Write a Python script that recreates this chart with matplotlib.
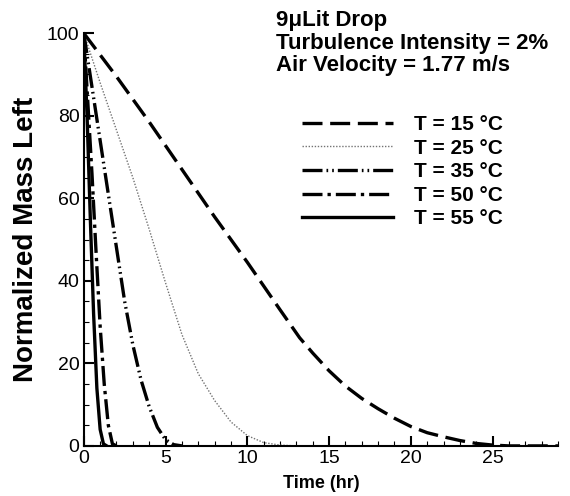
import numpy as np
import matplotlib.pyplot as plt
from matplotlib.ticker import MultipleLocator

plt.rcParams['font.family'] = ['Liberation Sans', 'DejaVu Sans']

# values (time in hr, mass in %)
t15 = [0, 2, 4, 6, 8, 10, 12, 13.2, 14, 15, 16, 17, 18, 19, 20, 21, 22, 23, 24, 25, 26, 29]
m15 = [100, 89.5, 78.5, 67, 55.5, 44.5, 33, 26.2, 22.5, 18.2, 14.5, 11.5, 9, 6.7, 4.7, 3.2, 2.2, 1.3, 0.6, 0.2, 0, 0]

t25 = [0, 1, 2, 3, 4, 5, 6, 7, 8, 9, 10, 11, 12, 13]
m25 = [100, 88, 76.5, 65, 52.5, 39.5, 27, 17.5, 11, 5.8, 2.5, 0.8, 0.2, 0]

t35 = [0, 0.5, 1, 1.5, 2, 2.5, 3, 3.5, 4, 4.5, 5, 5.5, 6]
m35 = [100, 87, 74, 61, 48, 35, 24.5, 16, 9.5, 4.5, 1.5, 0.3, 0]

t50 = [0, 0.25, 0.5, 0.75, 1.0, 1.25, 1.5, 1.75, 2.0]
m50 = [100, 83, 66, 47, 29, 15, 5, 0.5, 0]

t55 = [0, 0.2, 0.4, 0.6, 0.8, 1.0, 1.2, 1.4]
m55 = [100, 80, 55, 32, 14, 4, 0.5, 0]

labels = ['T = 15 °C', 'T = 25 °C', 'T = 35 °C', 'T = 50 °C', 'T = 55 °C']

fig = plt.figure(figsize=(5.7, 4.96), dpi=100)
ax = fig.add_axes([0.147, 0.101, 0.832, 0.832])

ax.plot(t15, m15, color='black', lw=2.4, linestyle=(0, (6, 2.3)), label=labels[0])
ax.plot(t25, m25, color='0.45', lw=1.0, linestyle=(0, (1, 1.2)), label=labels[1])
ax.plot(t35, m35, color='black', lw=2.4, linestyle=(0, (6, 1.2, 0.5, 1.2, 0.5, 1.2)), label=labels[2])
ax.plot(t50, m50, color='black', lw=2.4, linestyle=(0, (6, 1.5, 1, 1.5)), label=labels[3])
ax.plot(t55, m55, color='black', lw=2.4, linestyle='-', label=labels[4])

ax.set_xlim(0, 29)
ax.set_ylim(0, 100)
ax.spines['top'].set_visible(False)
ax.spines['right'].set_visible(False)
ax.spines['left'].set_linewidth(1.5)
ax.spines['bottom'].set_linewidth(1.5)

ax.xaxis.set_major_locator(MultipleLocator(5))
ax.xaxis.set_minor_locator(MultipleLocator(1))
ax.yaxis.set_major_locator(MultipleLocator(20))
ax.yaxis.set_minor_locator(MultipleLocator(5))
ax.tick_params(which='major', direction='in', length=7, width=1.5, labelsize=14, pad=3)
ax.tick_params(which='minor', direction='in', length=3.5, width=0.8)

ax.set_xlabel('Time (hr)', fontsize=13, fontweight='bold', labelpad=6)
ax.set_ylabel('Normalized Mass Left', fontsize=20, fontweight='bold', labelpad=6)

fig.text(0.484, 0.98, '9μLit Drop\nTurbulence Intensity = 2%\nAir Velocity = 1.77 m/s',
         fontsize=16, fontweight='bold', va='top', ha='left', linespacing=1.1)

leg = ax.legend(loc='upper left', bbox_to_anchor=(0.42, 0.847), frameon=False,
                handlelength=4.4, fontsize=15, labelspacing=0.22, handletextpad=1.0)
for txt in leg.get_texts():
    txt.set_fontweight('bold')

fig.savefig('out.png', dpi=100)
